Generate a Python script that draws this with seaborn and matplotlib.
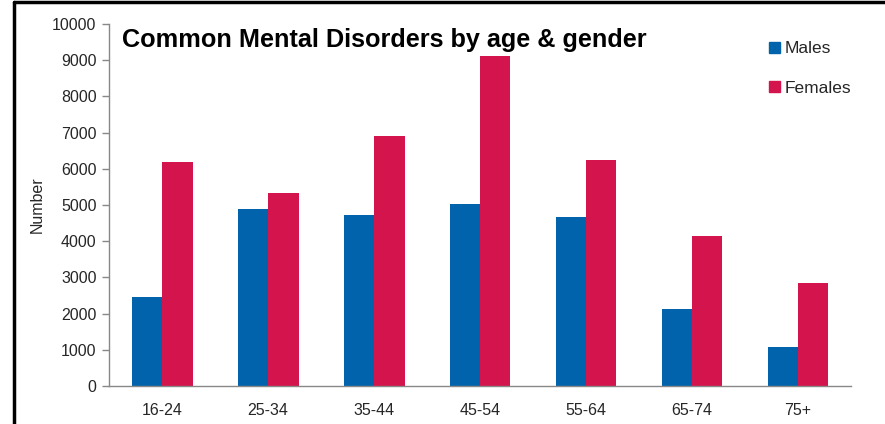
import matplotlib
matplotlib.use("Agg")
import matplotlib.pyplot as plt
import matplotlib.patches as mpatches
import seaborn as sns
import pandas as pd

age_groups = ["16-24", "25-34", "35-44", "45-54", "55-64", "65-74", "75+"]
males = [2450, 4900, 4720, 5020, 4660, 2120, 1070]
females = [6190, 5330, 6910, 9120, 6240, 4140, 2840]
series = ["Males", "Females"]
colors = {"Males": "#0063AC", "Females": "#D4144C"}

df = pd.DataFrame({
    "age": age_groups * 2,
    "gender": ["Males"] * len(age_groups) + ["Females"] * len(age_groups),
    "value": males + females,
})

sns.set_theme(style="white")
plt.rcParams["font.family"] = ["Liberation Sans", "DejaVu Sans"]

fig = plt.figure(figsize=(8.85, 4.24), dpi=100)
ax = fig.add_axes([0.1232, 0.0896, 0.8384, 0.8538])

sns.barplot(data=df, x="age", y="value", hue="gender", hue_order=series,
            order=age_groups, palette=colors, width=0.575, saturation=1,
            edgecolor="none", linewidth=0, ax=ax)

ax.set_ylim(0, 10000)
ax.set_xlim(-0.5, len(age_groups) - 0.5)
ax.set_yticks(range(0, 10001, 1000))
ax.set_yticklabels([str(v) for v in range(0, 10001, 1000)], fontsize=11.5)
ax.set_xticks(range(len(age_groups)))
ax.set_xticklabels(age_groups, fontsize=11.5)
ax.set_xticks([i - 0.5 for i in range(len(age_groups) + 1)], minor=True)
ax.tick_params(axis="x", which="major", length=0, pad=12)
ax.tick_params(axis="x", which="minor", length=5, color="#888888", width=1, direction="out")
ax.tick_params(axis="y", length=5, color="#888888", width=1, direction="out", pad=4,
               left=True)
ax.set_xlabel("")
ax.set_ylabel("Number", fontsize=11.5, labelpad=5)

for side in ["top", "right"]:
    ax.spines[side].set_visible(False)
for side in ["left", "bottom"]:
    ax.spines[side].set_color("#888888")
    ax.spines[side].set_linewidth(1)

ax.text(0.017, 0.99, "Common Mental Disorders by age & gender", transform=ax.transAxes,
        fontsize=18.2, fontweight="bold", ha="left", va="top", color="black")

handles = [mpatches.Patch(color=colors[s], label=s) for s in series]
ax.legend(handles=handles, loc="upper left", bbox_to_anchor=(0.868, 0.995),
          frameon=False, fontsize=12.5, handlelength=0.65, handleheight=0.65,
          handletextpad=0.25, labelspacing=1.4)

# outer frame on left and top edges
fig.add_artist(plt.Line2D([14 / 885, 14 / 885], [0, 1 - 2 / 424], transform=fig.transFigure,
                          color="black", linewidth=2.5))
fig.add_artist(plt.Line2D([14 / 885, 1], [1 - 2 / 424, 1 - 2 / 424], transform=fig.transFigure,
                          color="black", linewidth=2.5))

fig.savefig("out.png", dpi=100)
